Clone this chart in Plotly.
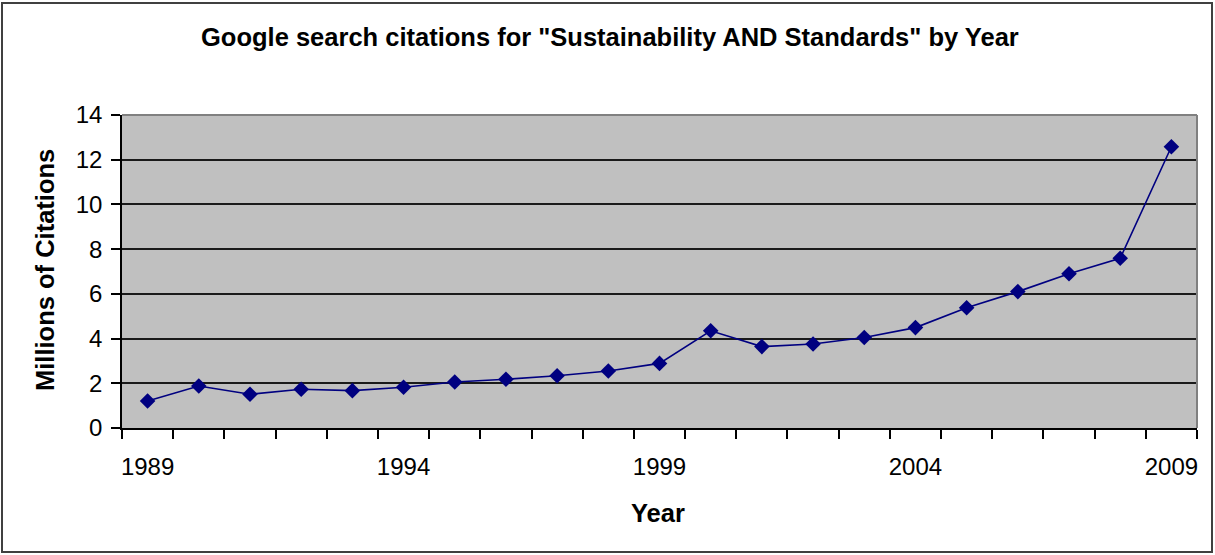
import plotly.graph_objects as go

years = list(range(1989, 2010))
citations = [1.21, 1.88, 1.51, 1.73, 1.67, 1.82, 2.06, 2.18, 2.34, 2.55, 2.89,
             4.35, 3.64, 3.76, 4.05, 4.49, 5.38, 6.10, 6.90, 7.59, 12.58]
x_tick_labels = [1989, 1994, 1999, 2004, 2009]
y_ticks = [0, 2, 4, 6, 8, 10, 12, 14]

title_text = 'Google search citations for "Sustainability AND Standards" by Year'
x_title = "Year"
y_title = "Millions of Citations"

W, H = 1215, 555
L, R, T, B = 122, 18, 115, 127
PW, PH = W - L - R, H - T - B

def px(x):
    return (x - L) / PW

def py(y):
    return (H - B - y) / PH

FONT = "Liberation Sans, Arial, sans-serif"

fig = go.Figure()
fig.add_trace(go.Scatter(
    x=years, y=citations, mode="lines+markers",
    line=dict(color="#000080", width=1.6),
    marker=dict(symbol="diamond", size=12, color="#000080"),
    showlegend=False, hoverinfo="x+y",
))

fig.update_layout(
    width=W, height=H, autosize=False,
    margin=dict(l=L, r=R, t=T, b=B, pad=0),
    paper_bgcolor="white", plot_bgcolor="#C0C0C0",
    font=dict(family=FONT, size=24, color="black"),
    xaxis=dict(
        type="linear", range=[1988.5, 2009.5],
        tickmode="array", tickvals=x_tick_labels,
        ticktext=[str(v) for v in x_tick_labels],
        ticks="outside", ticklen=9, tickcolor="rgba(0,0,0,0)",
        showgrid=False, zeroline=False,
        showline=True, linecolor="black", linewidth=1.5,
        minor=dict(tickmode="linear", tick0=1988.5, dtick=1,
                   ticks="outside", ticklen=9, tickcolor="black",
                   tickwidth=1.5, showgrid=False),
        ticklabelstandoff=7,
        tickfont=dict(family=FONT, size=24, color="black"),
        fixedrange=True,
    ),
    yaxis=dict(
        range=[0, 14], tickmode="array", tickvals=y_ticks,
        ticks="outside", ticklen=9, tickcolor="black", tickwidth=1.5,
        showgrid=True, gridcolor="#1a1a1a", gridwidth=2,
        zeroline=False,
        showline=True, linecolor="black", linewidth=1.5,
        ticklabelstandoff=4,
        tickfont=dict(family=FONT, size=24, color="black"),
        fixedrange=True,
    ),
    annotations=[
        dict(text="<b>%s</b>" % title_text, xref="paper", yref="paper",
             x=px(610), y=py(37), xanchor="center", yanchor="middle",
             showarrow=False, font=dict(family=FONT, size=25.5, color="black")),
        dict(text="<b>%s</b>" % x_title, xref="paper", yref="paper",
             x=px(658), y=py(513), xanchor="center", yanchor="middle",
             showarrow=False, font=dict(family=FONT, size=25.5, color="black")),
        dict(text="<b>%s</b>" % y_title, xref="paper", yref="paper",
             x=px(45), y=py(270), xanchor="center", yanchor="middle",
             textangle=-90,
             showarrow=False, font=dict(family=FONT, size=25.5, color="black")),
    ],
    shapes=[
        dict(type="line", xref="paper", yref="paper", x0=0, x1=1, y0=1, y1=1,
             line=dict(color="#808080", width=2), layer="above"),
        dict(type="line", xref="paper", yref="paper", x0=1, x1=1, y0=0, y1=1,
             line=dict(color="#808080", width=2), layer="above"),
        dict(type="rect", xref="paper", yref="paper",
             x0=px(2), x1=px(1212), y0=py(552), y1=py(3),
             line=dict(color="#404040", width=2), fillcolor="rgba(0,0,0,0)"),
    ],
)

fig.write_html("out.html", config={"displayModeBar": False},
               post_script="document.body.style.margin='0';document.body.style.overflow='hidden';")
